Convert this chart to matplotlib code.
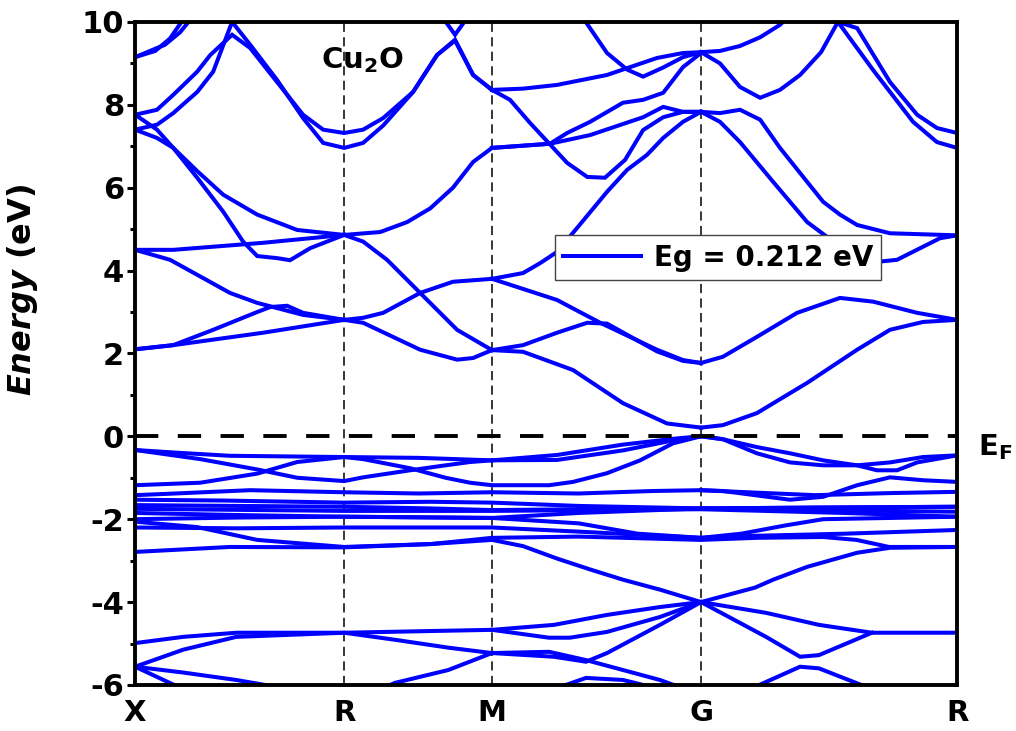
# Cu2O バンド構造の再現
import matplotlib
matplotlib.use('Agg')
import matplotlib.pyplot as plt

plt.rcParams['font.family'] = ['DejaVu Sans']
plt.rcParams['font.weight'] = 'bold'
plt.rcParams['axes.unicode_minus'] = False
plt.rcParams['mathtext.fontset'] = 'custom'
plt.rcParams['mathtext.rm'] = 'DejaVu Sans:bold'
plt.rcParams['mathtext.bf'] = 'DejaVu Sans:bold'
plt.rcParams['mathtext.it'] = 'DejaVu Sans:bold:italic'

# 高対称点 (k-path 距離, 2π/a 単位)
kpath_labels = ['X', 'R', 'M', 'G', 'R']
kpath_pos = [0.0, 0.707, 1.207, 1.914, 2.780]

# 伝導帯 (k, E[eV])
cb_lines = [
    [(0, 2.1), (0.129, 2.2), (0.433, 2.5), (0.707, 2.81)],
    [(0, 2.1), (0.129, 2.2), (0.264, 2.57), (0.413, 3.0), (0.457, 3.12), (0.514, 3.15), (0.568, 2.98), (0.707, 2.81)],
    [(0, 4.5), (0.118, 4.26), (0.321, 3.46), (0.413, 3.22), (0.568, 2.93), (0.707, 2.81)],
    [(0, 4.5), (0.129, 4.5), (0.433, 4.67), (0.707, 4.86)],
    [(0.707, 2.81), (0.771, 2.86), (0.839, 2.98), (0.964, 3.46), (1.075, 3.73), (1.207, 3.8)],
    [(0.707, 2.81), (0.771, 2.74), (0.964, 2.09), (1.089, 1.85), (1.143, 1.89), (1.207, 2.08)],
    [(0.707, 4.86), (0.771, 4.7), (0.852, 4.26), (0.964, 3.46), (1.089, 2.57), (1.207, 2.08)],
    [(0.707, 4.86), (0.829, 4.93), (0.920, 5.17), (0.998, 5.5), (1.075, 6.0), (1.143, 6.62), (1.207, 6.96)],
    [(1.207, 3.8), (1.427, 3.29), (1.573, 2.74), (1.765, 2.09), (1.853, 1.84), (1.914, 1.77)],
    [(1.207, 2.08), (1.312, 2.2), (1.427, 2.5), (1.529, 2.74), (1.596, 2.72), (1.765, 2.05), (1.853, 1.82), (1.914, 1.77)],
    [(1.207, 2.08), (1.312, 2.04), (1.481, 1.6), (1.650, 0.8), (1.799, 0.31), (1.914, 0.21)],
    [(1.914, 0.21), (1.988, 0.27), (2.103, 0.56), (2.273, 1.29), (2.442, 2.09), (2.553, 2.57), (2.665, 2.76), (2.780, 2.81)],
    [(1.914, 1.77), (1.988, 1.92), (2.103, 2.4), (2.239, 2.98), (2.384, 3.34), (2.496, 3.25), (2.645, 2.98), (2.780, 2.81)],
    [(1.207, 3.8), (1.312, 3.94), (1.370, 4.18), (1.427, 4.45), (1.495, 5.03), (1.596, 5.9), (1.664, 6.43), (1.731, 6.79), (1.786, 7.2), (1.853, 7.59), (1.914, 7.83)],
    [(1.207, 6.96), (1.403, 7.06), (1.539, 7.27), (1.718, 7.7), (1.786, 7.95), (1.853, 7.83), (1.914, 7.83)],
    [(1.207, 6.96), (1.403, 7.06), (1.461, 7.32), (1.539, 7.59), (1.650, 8.05), (1.718, 8.12), (1.786, 8.29), (1.853, 8.91), (1.914, 9.25)],
    [(1.207, 8.36), (1.268, 8.12), (1.336, 7.56), (1.396, 7.1), (1.461, 6.6), (1.529, 6.26), (1.589, 6.24), (1.657, 6.67), (1.718, 7.39), (1.786, 7.7), (1.853, 7.83), (1.914, 7.83)],
    [(1.207, 8.36), (1.312, 8.39), (1.427, 8.48), (1.596, 8.72), (1.765, 9.13), (1.853, 9.25), (1.914, 9.27)],
    [(1.505, 10.2), (1.596, 9.25), (1.664, 8.85), (1.718, 8.68), (1.786, 8.9), (1.853, 9.15), (1.914, 9.27)],
    [(1.914, 9.27), (1.978, 9.3), (2.046, 9.42), (2.114, 9.63), (2.181, 9.93), (2.22, 10.2)],
    [(1.914, 9.27), (1.978, 9.0), (2.046, 8.43), (2.114, 8.17), (2.181, 8.36), (2.249, 8.72), (2.320, 9.27), (2.377, 10.0)],
    [(2.377, 10.0), (2.442, 9.85), (2.553, 8.55), (2.645, 7.76), (2.712, 7.44), (2.780, 7.32)],
    [(2.377, 10.0), (2.496, 8.84), (2.631, 7.59), (2.712, 7.1), (2.780, 6.96)],
    [(1.914, 7.83), (1.978, 7.8), (2.046, 7.88), (2.114, 7.64), (2.181, 6.96), (2.273, 6.14), (2.327, 5.66), (2.384, 5.35), (2.442, 5.1), (2.553, 4.9), (2.780, 4.85)],
    [(1.914, 7.83), (1.978, 7.59), (2.046, 7.1), (2.158, 6.14), (2.273, 5.17), (2.39, 4.55), (2.496, 4.2), (2.577, 4.26), (2.722, 4.78), (2.780, 4.85)],
    [(0, 7.76), (0.074, 7.88), (0.129, 8.24), (0.210, 8.8), (0.254, 9.2), (0.328, 9.69), (0.389, 9.37), (0.480, 8.55), (0.568, 7.76), (0.636, 7.4), (0.707, 7.32),
     (0.771, 7.4), (0.839, 7.68), (0.940, 8.31), (1.021, 9.2), (1.082, 9.55), (1.143, 8.72), (1.207, 8.36)],
    [(0, 7.4), (0.074, 7.52), (0.129, 7.8), (0.210, 8.31), (0.264, 8.8), (0.328, 10.0), (0.389, 9.45), (0.480, 8.6), (0.568, 7.68), (0.636, 7.08), (0.707, 6.96),
     (0.771, 7.08), (0.839, 7.5), (0.940, 8.31), (1.021, 9.2), (1.082, 9.57), (1.143, 8.72), (1.207, 8.36)],
    [(0, 7.76), (0.074, 7.4), (0.129, 6.96), (0.210, 6.4), (0.298, 5.83), (0.413, 5.35), (0.548, 4.98), (0.707, 4.86)],
    [(0, 7.4), (0.074, 7.2), (0.129, 6.96), (0.210, 6.24), (0.298, 5.42), (0.365, 4.7), (0.413, 4.35), (0.480, 4.3), (0.524, 4.25), (0.592, 4.54), (0.707, 4.86)],
    [(0, 9.15), (0.068, 9.3), (0.118, 9.6), (0.176, 10.2)],
    [(0, 9.15), (0.101, 9.45), (0.152, 9.75), (0.203, 10.2)],
    [(1.031, 10.2), (1.082, 9.69), (1.133, 10.2)],
]

# 価電子帯 (k, E[eV])
vb_lines = [
    [(0, -0.33), (0.152, -0.4), (0.321, -0.47), (0.707, -0.5), (0.96, -0.52), (1.207, -0.58),
     (1.427, -0.45), (1.650, -0.2), (1.833, -0.05), (1.914, 0.0),
     (1.988, -0.07), (2.103, -0.41), (2.215, -0.63), (2.327, -0.7), (2.442, -0.7), (2.553, -0.63), (2.665, -0.5), (2.780, -0.46)],
    [(0, -0.33), (0.22, -0.55), (0.413, -0.8), (0.548, -1.0), (0.707, -1.08),
     (0.771, -0.99), (0.93, -0.82), (1.05, -0.7), (1.133, -0.62), (1.207, -0.58),
     (1.427, -0.57), (1.650, -0.34), (1.833, -0.08), (1.914, 0.0),
     (1.988, -0.07), (2.103, -0.26), (2.215, -0.41), (2.327, -0.58), (2.442, -0.7), (2.509, -0.82), (2.577, -0.82), (2.645, -0.63), (2.780, -0.46)],
    [(0, -1.18), (0.22, -1.12), (0.413, -0.9), (0.548, -0.62), (0.707, -0.5),
     (0.771, -0.55), (0.93, -0.77), (1.05, -1.0), (1.133, -1.12), (1.207, -1.18),
     (1.4, -1.18), (1.481, -1.1), (1.596, -0.89), (1.708, -0.58), (1.819, -0.17), (1.914, 0.0)],
    [(1.914, -1.3), (1.988, -1.32), (2.215, -1.53), (2.327, -1.46), (2.442, -1.18), (2.553, -0.99), (2.665, -1.06), (2.780, -1.1)],
    [(0, -1.42), (0.135, -1.38), (0.389, -1.3), (0.707, -1.35), (0.96, -1.38), (1.207, -1.35),
     (1.5, -1.38), (1.75, -1.32), (1.914, -1.3), (2.103, -1.36), (2.3, -1.42), (2.553, -1.37), (2.780, -1.34)],
    [(0, -1.53), (0.3, -1.55), (0.707, -1.6), (1.0, -1.58), (1.207, -1.6), (1.5, -1.68), (1.914, -1.74), (2.3, -1.72), (2.780, -1.7)],
    [(0, -1.66), (0.35, -1.68), (0.707, -1.7), (1.0, -1.74), (1.207, -1.78), (1.5, -1.76), (1.914, -1.74), (2.3, -1.78), (2.780, -1.82)],
    [(0, -1.75), (0.707, -1.8), (1.207, -1.8), (1.914, -1.76), (2.4, -1.85), (2.780, -1.94)],
    [(0, -1.85), (0.35, -1.9), (0.707, -1.94), (1.207, -1.97), (1.5, -1.85), (1.914, -1.74), (2.3, -1.72), (2.780, -1.7)],
    [(0, -2.0), (0.35, -1.96), (0.707, -1.94), (1.207, -1.97), (1.5, -2.1), (1.7, -2.35), (1.914, -2.45),
     (2.05, -2.35), (2.2, -2.15), (2.327, -2.0), (2.780, -1.94)],
    [(0, -2.2), (0.35, -2.22), (0.707, -2.2), (1.207, -2.2), (1.5, -2.3), (1.914, -2.45), (2.1, -2.4), (2.4, -2.35), (2.780, -2.26)],
    [(0, -2.79), (0.321, -2.67), (0.707, -2.68), (1.0, -2.6), (1.207, -2.45), (1.5, -2.42), (1.914, -2.5),
     (2.1, -2.45), (2.327, -2.43), (2.44, -2.5), (2.55, -2.67), (2.780, -2.67)],
    [(0, -2.06), (0.210, -2.19), (0.413, -2.5), (0.707, -2.67), (1.0, -2.6), (1.207, -2.5),
     (1.312, -2.65), (1.427, -2.95), (1.542, -3.22), (1.650, -3.46), (1.775, -3.7), (1.914, -4.0)],
    [(1.914, -4.0), (2.097, -3.65), (2.158, -3.46), (2.273, -3.15), (2.442, -2.81), (2.553, -2.69), (2.780, -2.67)],
]

# 深い準位 (k, E[eV])
deep_lines = [
    [(0, -4.99), (0.162, -4.84), (0.342, -4.74), (0.707, -4.74), (1.207, -4.67), (1.417, -4.55), (1.596, -4.31), (1.775, -4.12), (1.914, -4.0),
     (2.134, -4.26), (2.313, -4.55), (2.492, -4.74), (2.780, -4.74)],
    [(0, -5.56), (0.162, -5.15), (0.342, -4.84), (0.707, -4.74), (0.879, -4.91), (1.059, -5.1), (1.207, -5.23),
     (1.4, -5.2), (1.525, -5.4), (1.775, -5.88), (1.86, -6.1)],
    [(1.207, -4.67), (1.4, -4.86), (1.47, -4.86), (1.596, -4.72), (1.775, -4.36), (1.914, -4.0),
     (2.134, -4.84), (2.249, -5.32), (2.313, -5.28), (2.492, -4.74)],
    [(1.207, -5.23), (1.417, -5.32), (1.525, -5.44), (1.596, -5.23), (1.775, -4.55), (1.914, -4.0)],
    [(0.83, -6.1), (0.879, -5.95), (1.059, -5.64), (1.207, -5.23)],
    [(0, -5.56), (0.162, -5.7), (0.342, -5.88), (0.52, -6.1)],
    [(0, -5.56), (0.162, -6.1)],
    [(2.08, -6.1), (2.249, -5.56), (2.313, -5.6), (2.492, -6.1)],
    [(1.417, -6.1), (1.525, -5.83), (1.650, -5.88), (1.775, -6.1)],
]

band_gap = 0.212


def main():
    fig = plt.figure(figsize=(10.16, 7.31), dpi=100)
    ax = fig.add_axes([0.133, 0.063, 0.809, 0.907])

    band_color = '#0000ff'
    for line in cb_lines + vb_lines + deep_lines:
        ks = [p[0] for p in line]
        es = [p[1] for p in line]
        ax.plot(ks, es, color=band_color, lw=2.9, solid_joinstyle='miter')

    # 凡例用のダミー
    ax.plot([], [], color=band_color, lw=2.9, label=f'Eg = {band_gap} eV')

    # 高対称点の縦線
    for k in kpath_pos[1:-1]:
        ax.axvline(k, color='black', lw=1.1, dashes=(6, 3.5), zorder=0)

    # フェルミ準位
    ax.axhline(0, color='black', lw=2.8, dashes=(6, 5), zorder=3)

    ax.set_xlim(kpath_pos[0], kpath_pos[-1])
    ax.set_ylim(-6, 10)
    ax.set_xticks(kpath_pos)
    ax.set_xticklabels(kpath_labels, fontsize=21, fontweight='bold')
    ax.set_yticks(range(-6, 11, 2))
    ax.set_yticks(range(-5, 10, 2), minor=True)
    ax.tick_params(axis='x', length=0, pad=10)
    ax.tick_params(axis='y', which='major', length=6, width=2.2, labelsize=22, pad=2, direction='out')
    ax.tick_params(axis='y', which='minor', length=3.5, width=2.2, direction='out')
    for lab in ax.get_yticklabels():
        lab.set_fontweight('bold')

    for s in ax.spines.values():
        s.set_linewidth(2.8)

    ax.set_ylabel(r'$\mathit{Energy}$ (eV)', fontsize=23, fontweight='bold')
    ax.yaxis.set_label_coords(-0.116, 0.596)

    ax.text(0.768, 9.08, r'Cu$_2$O', fontsize=21, fontweight='bold', ha='center', va='center')
    ax.text(2.908, -0.25, r'E$_\mathrm{F}$', fontsize=21, fontweight='bold', ha='center', va='center', clip_on=False)

    leg = ax.legend(loc='lower left', bbox_to_anchor=(0.511, 0.611), borderaxespad=0,
                    fontsize=20, fancybox=False, framealpha=1, edgecolor='#444444',
                    handlelength=2.8, borderpad=0.3, handletextpad=0.45)
    leg.get_frame().set_linewidth(1.0)
    for t in leg.get_texts():
        t.set_fontweight('bold')

    fig.savefig('out.png', dpi=100)


if __name__ == '__main__':
    main()
